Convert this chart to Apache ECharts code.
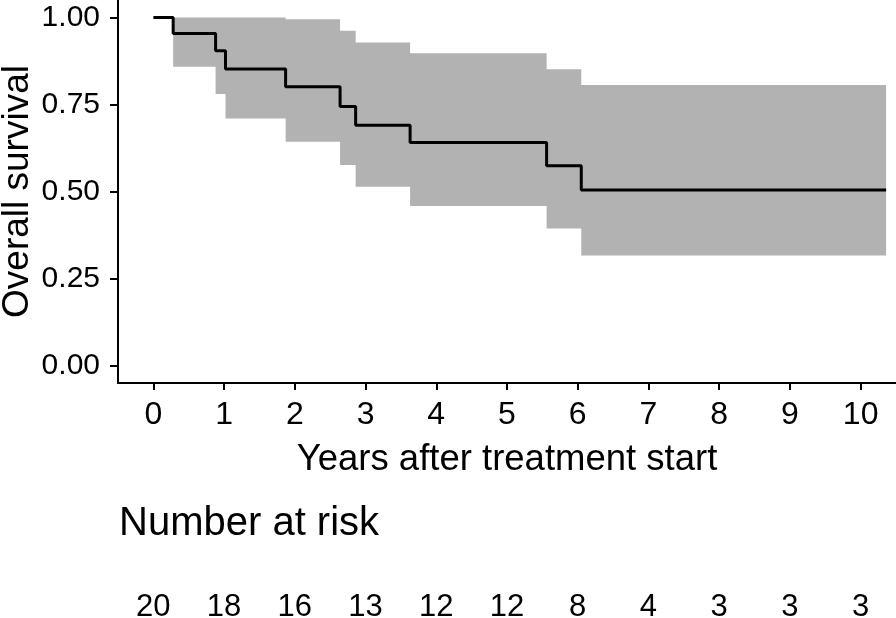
<!DOCTYPE html>
<html><head><meta charset="utf-8">
<script src="https://cdn.jsdelivr.net/npm/echarts@6/dist/echarts.min.js"></script>
<style>html,body{margin:0;padding:0;background:#fff}#c{width:896px;height:618px}</style>
</head><body><div id="c"></div>
<script>
// Kaplan-Meier step data (years after treatment start)
const times    = [0, 0.28, 0.88, 1.02, 1.87, 2.64, 2.86, 3.63, 5.56, 6.05, 10.36];
const survival = [1, 0.954, 0.904, 0.852, 0.801, 0.744, 0.690, 0.641, 0.574, 0.504, 0.504];
const lowerCI  = [1, 0.858, 0.780, 0.710, 0.643, 0.576, 0.514, 0.458, 0.394, 0.316, 0.316];
const upperCI  = [1, 1.000, 1.000, 1.000, 0.995, 0.962, 0.928, 0.897, 0.851, 0.806, 0.806];
const xTicks = [0, 1, 2, 3, 4, 5, 6, 7, 8, 9, 10];
const yTicks = [0, 0.25, 0.5, 0.75, 1];
const riskTimes = [0, 1, 2, 3, 4, 5, 6, 7, 8, 9, 10];
const atRisk = [20, 18, 16, 13, 12, 12, 8, 4, 3, 3, 3];

const FONT = '"Liberation Sans", Arial, sans-serif';
const chart = echarts.init(document.getElementById('c'), null, {renderer: 'canvas'});

chart.setOption({
  animation: false,
  backgroundColor: '#ffffff',
  title: {
    text: 'Number at risk',
    left: 119, top: 504, padding: 0,
    textStyle: {fontFamily: FONT, fontSize: 40, fontWeight: 'normal', color: '#000'}
  },
  grid: [
    {left: 118, right: 0, top: 0, height: 383, containLabel: false, outerBoundsMode: 'none'},
    {left: 118, right: 0, top: 591, height: 32, containLabel: false, outerBoundsMode: 'none'}
  ],
  xAxis: [{
    gridIndex: 0, type: 'value', min: -0.5, max: 10.5,
    name: 'Years after treatment start', nameLocation: 'middle', nameGap: 58,
    nameTextStyle: {fontFamily: FONT, fontSize: 36.5, color: '#000'},
    nameMoveOverlap: false,
    axisLine: {show: true, onZero: false, lineStyle: {color: '#000', width: 2}},
    axisTick: {show: true, length: 7, lineStyle: {color: '#000', width: 2}, customValues: xTicks},
    axisLabel: {show: true, margin: 16, fontFamily: FONT, fontSize: 32, color: '#000', customValues: xTicks, formatter: v => String(v)},
    splitLine: {show: false}
  }, {
    gridIndex: 1, type: 'value', min: -0.5, max: 10.5, show: false
  }],
  yAxis: [{
    gridIndex: 0, type: 'value', min: -0.05, max: 1.05,
    name: 'Overall survival', nameLocation: 'middle', nameGap: 82,
    nameTextStyle: {fontFamily: FONT, fontSize: 37, color: '#000'},
    nameMoveOverlap: false,
    axisLine: {show: true, onZero: false, lineStyle: {color: '#000', width: 2}},
    axisTick: {show: true, length: 8, lineStyle: {color: '#000', width: 2}, customValues: yTicks},
    axisLabel: {show: true, margin: 18, fontFamily: FONT, fontSize: 30, color: '#000', customValues: yTicks, formatter: v => v.toFixed(2)},
    splitLine: {show: false}
  }, {
    gridIndex: 1, type: 'value', min: 0, max: 1, show: false
  }],
  series: [{
    type: 'custom', xAxisIndex: 0, yAxisIndex: 0, z: 2, silent: true,
    data: times.map((t, i) => [t, lowerCI[i], upperCI[i]]),
    encode: {x: 0, y: [1, 2]},
    clip: true,
    renderItem: function (params, api) {
      if (params.dataIndex !== 0) return null;
      const pts = [];
      for (let i = 0; i < times.length - 1; i++) {
        pts.push(api.coord([times[i], upperCI[i]]));
        pts.push(api.coord([times[i + 1], upperCI[i]]));
      }
      for (let i = times.length - 2; i >= 0; i--) {
        pts.push(api.coord([times[i + 1], lowerCI[i]]));
        pts.push(api.coord([times[i], lowerCI[i]]));
      }
      return {type: 'polygon', shape: {points: pts}, style: {fill: '#B2B2B2'}};
    }
  }, {
    type: 'line', xAxisIndex: 0, yAxisIndex: 0, z: 3, silent: true,
    step: 'end', symbol: 'none',
    data: times.map((t, i) => [t, survival[i]]),
    lineStyle: {color: '#000', width: 3}
  }, {
    type: 'scatter', xAxisIndex: 1, yAxisIndex: 1, silent: true,
    symbolSize: 0,
    itemStyle: {opacity: 1},
    data: riskTimes.map((t, i) => [t, 0.5, atRisk[i]]),
    label: {
      show: true, position: 'inside', formatter: p => String(p.value[2]),
      fontFamily: FONT, fontSize: 31, color: '#000', opacity: 1, textBorderWidth: 0
    }
  }]
});
</script>
</body></html>
